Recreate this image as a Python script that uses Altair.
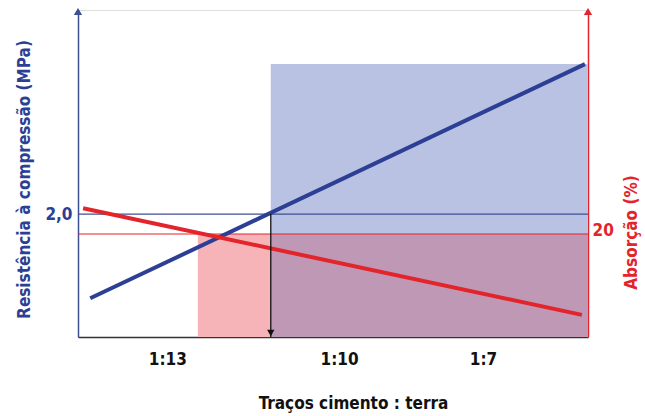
import altair as alt
import pandas as pd

# ---- data ----
x_ticks = [17.5, 51.2, 79.4]
x_tick_labels = ["1:13", "1:10", "1:7"]
resist_x = [2.4, 99.4]          # compressive strength line
resist_y = [0.63, 4.44]
absorc_x = [1.0, 98.8]          # absorption line
absorc_y = [25.0, 4.3]
resist_ref = 2.0
absorc_ref = 20
trace_opt = 37.8                # x where strength reaches 2,0
absorc_start = 23.5             # x where absorption reaches 20
x_max = 100
resist_max = 5.32
absorc_max = 63.5

BLUE = "#2c3f94"
BLUE_AX = "#3c4f93"
RED = "#e3242b"
FILL_BLUE = "#b9c2e2"
FILL_PINK = "#f6b4b9"
FILL_PURPLE = "#bf98b5"
FONT = "'DejaVu Sans Condensed', 'Roboto Condensed', Roboto, sans-serif"
FS = 17

xs = alt.Scale(domain=[0, x_max])
ls = alt.Scale(domain=[0, resist_max])
rs = alt.Scale(domain=[0, absorc_max])

expr = "''"
for v, l in reversed(list(zip(x_ticks, x_tick_labels))):
    expr = f"abs(datum.value - {v}) < 0.01 ? '{l}' : ({expr})"

x_axis = alt.Axis(
    orient="bottom", values=x_ticks, labelExpr=expr, ticks=False, tickSize=0,
    grid=False, domainColor="#333333", domainWidth=1.5,
    labelFont=FONT, labelFontSize=FS, labelFontWeight="bold", labelColor="#111111",
    labelPadding=14, labelOverlap=False, labelFlush=False,
    title="Traços  cimento : terra", titleFont=FONT, titleFontSize=FS,
    titleFontWeight="bold", titleColor="#111111", titleX=275, titleY=71,
    titleAlign="center", titleBaseline="alphabetic",
)

left_axis = alt.Axis(
    orient="left", values=[resist_ref],
    labelExpr="replace(format(datum.value, '.1f'), '.', ',')",
    ticks=False, tickSize=0, grid=False, domainColor=BLUE_AX, domainWidth=1.5,
    labelFont=FONT, labelFontSize=FS, labelFontWeight="bold", labelColor=BLUE,
    labelPadding=6,
    title="Resistência à compressão (MPa)", titleFont=FONT, titleFontSize=FS,
    titleFontWeight="bold", titleColor=BLUE, titleAngle=270,
    titleX=-54, titleY=169, titleAlign="center", titleBaseline="middle",
)

right_axis = alt.Axis(
    orient="right", values=[absorc_ref], format="d",
    ticks=False, tickSize=0, grid=False, domainColor=RED, domainWidth=1.5,
    labelFont=FONT, labelFontSize=FS, labelFontWeight="bold", labelColor=RED,
    labelPadding=4, labelOffset=-4,
    title="Absorção (%)", titleFont=FONT, titleFontSize=FS,
    titleFontWeight="bold", titleColor=RED, titleAngle=270,
    titleX=43, titleY=222, titleAlign="center", titleBaseline="middle",
)

# blue zone (strength above 2,0)
blue_zone = pd.DataFrame({"x": [trace_opt], "x2": [x_max], "y": [0], "y2": [resist_y[1]]})
l_blue_zone = alt.Chart(blue_zone).mark_rect(color=FILL_BLUE).encode(
    x=alt.X("x:Q", scale=xs, axis=x_axis),
    x2="x2",
    y=alt.Y("y:Q", scale=ls, axis=left_axis),
    y2="y2",
)

# absorption zone (absorption below 20)
abs_zone = pd.DataFrame({
    "x": [absorc_start, trace_opt], "x2": [trace_opt, x_max],
    "y": [0, 0], "y2": [absorc_ref, absorc_ref],
    "c": [FILL_PINK, FILL_PURPLE],
})
l_abs_zone = alt.Chart(abs_zone).mark_rect().encode(
    x=alt.X("x:Q", scale=xs, axis=x_axis),
    x2="x2",
    y=alt.Y("y:Q", scale=rs, axis=right_axis),
    y2="y2",
    color=alt.Color("c:N", scale=None),
)

l_blue_ref = alt.Chart(pd.DataFrame({"y": [resist_ref]})).mark_rule(
    color=BLUE_AX, strokeWidth=1.2).encode(
    y=alt.Y("y:Q", scale=ls, axis=None))

l_red_ref = alt.Chart(pd.DataFrame({"y": [absorc_ref]})).mark_rule(
    color=RED, strokeWidth=1.2).encode(
    y=alt.Y("y:Q", scale=rs, axis=None))

l_blue_line = alt.Chart(pd.DataFrame({"x": resist_x, "y": resist_y})).mark_line(
    color=BLUE, strokeWidth=4).encode(
    x=alt.X("x:Q", scale=xs, axis=x_axis),
    y=alt.Y("y:Q", scale=ls, axis=None))

l_red_line = alt.Chart(pd.DataFrame({"x": absorc_x, "y": absorc_y})).mark_line(
    color=RED, strokeWidth=4).encode(
    x=alt.X("x:Q", scale=xs, axis=x_axis),
    y=alt.Y("y:Q", scale=rs, axis=None))

arrow_df = pd.DataFrame({"x": [trace_opt], "y": [resist_ref], "y2": [0]})
l_arrow = alt.Chart(arrow_df).mark_rule(color="#111111", strokeWidth=1.3).encode(
    x=alt.X("x:Q", scale=xs, axis=x_axis),
    y=alt.Y("y:Q", scale=ls, axis=None),
    y2="y2")
l_arrow_head = alt.Chart(arrow_df).mark_point(
    shape="triangle-down", filled=True, size=55, color="#111111", opacity=1,
    yOffset=-4).encode(
    x=alt.X("x:Q", scale=xs, axis=x_axis),
    y=alt.Y("y2:Q", scale=ls, axis=None))

l_left_head = alt.Chart(pd.DataFrame({"x": [0], "y": [resist_max]})).mark_point(
    shape="triangle-up", filled=True, size=70, color=BLUE_AX, opacity=1,
    yOffset=1.5).encode(
    x=alt.X("x:Q", scale=xs, axis=x_axis),
    y=alt.Y("y:Q", scale=ls, axis=None))

l_right_head = alt.Chart(pd.DataFrame({"x": [x_max], "y": [absorc_max]})).mark_point(
    shape="triangle-up", filled=True, size=70, color=RED, opacity=1,
    yOffset=1.5).encode(
    x=alt.X("x:Q", scale=xs, axis=x_axis),
    y=alt.Y("y:Q", scale=rs, axis=None))

chart = alt.layer(
    l_blue_zone, l_abs_zone, l_blue_ref, l_red_ref, l_blue_line, l_red_line,
    l_arrow, l_arrow_head, l_left_head, l_right_head,
).resolve_scale(y="independent").properties(
    width=510, height=327,
    autosize=alt.AutoSizeParams(type="none"),
    padding={"left": 78, "top": 10, "right": 57, "bottom": 79},
).configure_view(stroke=None).configure(background="white")

chart.save("out.html", embed_options={"renderer": "svg", "actions": False})
